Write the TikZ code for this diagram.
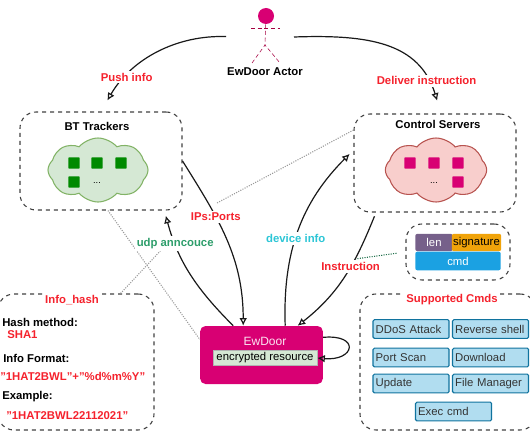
\documentclass[tikz,border=0pt]{standalone}
\usepackage{fontspec}
\setmainfont{Liberation Sans}
\usepackage{xcolor}
\usetikzlibrary{arrows.meta,positioning,shapes.symbols,shapes.geometric,calc}

\definecolor{ewmagenta}{HTML}{D80073}
\definecolor{ewdarkmag}{HTML}{A50040}
\definecolor{labelred}{HTML}{F5222D}
\definecolor{udpgreen}{HTML}{2E9E6B}
\definecolor{infocyan}{HTML}{2CC6D6}
\definecolor{btngreen}{HTML}{008A00}
\definecolor{cloudgreen}{HTML}{D5E8D4}
\definecolor{cloudgreenline}{HTML}{82B366}
\definecolor{cloudpink}{HTML}{F8CECC}
\definecolor{cloudpinkline}{HTML}{B85450}
\definecolor{lenpurple}{HTML}{76608A}
\definecolor{signorange}{HTML}{F0A30A}
\definecolor{cmdblue}{HTML}{1BA1E2}
\definecolor{btnblue}{HTML}{B1DDF0}
\definecolor{btnline}{HTML}{10739E}

\begin{document}
\begin{tikzpicture}[
  x=0.75pt, y=-0.75pt,
  panel/.style={rectangle, draw=black!75, dashed, thick, rounded corners=12pt},
  edge/.style={line width=0.9pt, -{Latex[open,length=2mm,width=2mm]}, draw=black!90},
  hint/.style={densely dotted, thick, draw=black!40},
  redlabel/.style={font=\fontsize{8.5}{10}\selectfont\bfseries, text=labelred, fill=white, inner sep=1.5pt},
  title/.style={font=\fontsize{8.5}{10}\selectfont\bfseries, text=black, inner sep=1pt},
  leftline/.style={anchor=west, font=\fontsize{8.5}{10}\selectfont\bfseries, inner sep=0pt},
  redline/.style={leftline, text=labelred},
  host/.style={rectangle, minimum size=8.5pt, inner sep=0pt, rounded corners=0.5pt},
  cmdbtn/.style={rectangle, draw=btnline, fill=btnblue, thick, rounded corners=1pt, text width=53pt, inner xsep=2pt, inner ysep=0pt, align=left, minimum height=14pt, font=\fontsize{8.5}{10}\selectfont, text=black!80},
  block/.style={rectangle, rounded corners=1.5pt, inner sep=0pt, font=\fontsize{8.5}{10}\selectfont}
]
\useasboundingbox (0,0) rectangle (530,442);

% Panels
\node[panel, minimum width=121.5pt, minimum height=73.5pt] (bt) at (101,161) {};
\node[panel, minimum width=121.5pt, minimum height=73.5pt] (cs) at (435,163) {};
\node[panel, minimum width=78pt, minimum height=42pt] (packet) at (458,252) {};
\node[panel, minimum width=132pt, minimum height=102pt] (cmds) at (448,362) {};
\node[panel, minimum width=117pt, minimum height=102pt] (info) at (76,362) {};

% Device
\node[rectangle, fill=ewmagenta, rounded corners=4pt, minimum width=92pt, minimum height=43.5pt] (ew) at (261.5,355) {};
\node[font=\small, text=white!90!ewmagenta, inner sep=0pt] (ewname) at (265,341) {EwDoor};
\node[rectangle, draw=black!30, fill=cloudgreen, inner sep=0pt, minimum width=78pt, minimum height=11pt, font=\fontsize{8.5}{10}\selectfont] (res) at (265,358) {encrypted resource};

% Actor
\node[circle, fill=ewmagenta, minimum size=12pt, inner sep=0pt] (head) at (266,16) {};
\node[title, inner sep=0pt] (actorname) at (265,72) {EwDoor Actor};
\coordinate (hip) at (265,45);
\coordinate (armleft) at (251,28);
\coordinate (armright) at (280,28);
\coordinate (footleft) at (252,63);
\coordinate (footright) at (280,63);
\coordinate (actorleft) at (238,37);
\coordinate (actorright) at (294,37);
\draw[ewdarkmag, densely dashed] (head) -- (hip);
\draw[ewdarkmag, densely dashed] (armleft) -- (armright);
\draw[ewdarkmag, densely dashed] (footleft) -- (hip) -- (footright);

% Clouds
\node[cloud, cloud puffs=8, cloud puff arc=100, aspect=1.6, draw=cloudgreenline, fill=cloudgreen, thick, minimum width=75pt, minimum height=48pt, inner sep=0pt] (btcloud) at (98,170) {};
\node[cloud, cloud puffs=8, cloud puff arc=100, aspect=1.6, draw=cloudpinkline, fill=cloudpink, thick, minimum width=76pt, minimum height=48pt, inner sep=0pt] (cscloud) at (436,170) {};

% Hosts
\node[host, fill=btngreen] (bt1) at (74,163) {};
\node[host, fill=btngreen] (bt2) at (97,163) {};
\node[host, fill=btngreen] (bt3) at (121,163) {};
\node[host, fill=btngreen] (bt4) at (74,182) {};
\node[font=\scriptsize, inner sep=0pt] (btdots) at (97,183) {...};
\node[host, fill=ewmagenta] (cs1) at (410,163) {};
\node[host, fill=ewmagenta] (cs2) at (434,163) {};
\node[host, fill=ewmagenta] (cs3) at (458,163) {};
\node[host, fill=ewmagenta] (cs4) at (458,182) {};
\node[font=\scriptsize, inner sep=0pt] (csdots) at (434,183) {...};

% Panel titles
\node[title] (bttitle) at (97,126) {BT Trackers};
\node[title] (cstitle) at (438,124) {Control Servers};
\node[redlabel] (cmdstitle) at (452,300) {Supported Cmds};
\node[redlabel] (infotitle) at (72,300) {Info\_hash};

% Packet
\node[block, fill=lenpurple, text=white, minimum width=28pt, minimum height=13pt] (len) at (434,242.5) {len};
\node[block, fill=signorange, text=black, minimum width=37pt, minimum height=13pt] (sign) at (476.5,242.5) {signature};
\node[block, fill=cmdblue, text=white, minimum width=64pt, minimum height=14pt] (cmd) at (458,261) {cmd};

% Commands
\node[cmdbtn] (ddos) at (411,329) {DDoS Attack};
\node[cmdbtn] (shell) at (490.5,329) {Reverse shell};
\node[cmdbtn] (scan) at (411,357.5) {Port Scan};
\node[cmdbtn] (down) at (490.5,357.5) {Download};
\node[cmdbtn] (update) at (411,383.5) {Update};
\node[cmdbtn] (files) at (490.5,383.5) {File Manager};
\node[cmdbtn] (exec) at (453.5,411.5) {Exec cmd};

% Hash details
\node[leftline] (method) at (2,322) {Hash method:};
\node[redline] (sha) at (7,335) {SHA1};
\node[leftline] (format) at (3,358) {Info Format:};
\node[redline] (fmtval) at (0,376) {"1HAT2BWL"+"\%d\%m\%Y"};
\node[leftline] (example) at (2,397) {Example:};
\node[redline] (exval) at (6,416) {"1HAT2BWL22112021"};

% Dotted hints
\draw[hint] (bt.-82) -- (ew.166);
\draw[hint] (cs.158) -- (217,203) coordinate (ipsend);
\draw[hint] (info.57) -- (163,248) coordinate (udpend);
\draw[hint, draw=udpgreen!70!black, shorten >=6pt] (355,259) coordinate (instrend) -- (packet.west);

% Edges
\draw[edge, shorten <=9pt, shorten >=9.5pt] (actorleft) to[out=178, in=60] node[redlabel, pos=0.75] {Push info} (bt.north);
\draw[edge, shorten >=10pt] (actorright) to[out=2, in=107, looseness=1.15] node[redlabel, pos=0.82] {Deliver instruction} (cs.83);
\draw[edge] (bt.east) to[out=-58, in=90] node[redlabel, pos=0.35] (ips) {IPs:Ports} (ew.122);
\draw[edge, shorten >=4pt] (ew.134) to[out=135, in=-75] node[redlabel, text=udpgreen, pos=0.76] (udp) {udp anncouce} (bt.-38);
\draw[edge, shorten >=4pt] (ew.51) to[out=92, in=-135] node[redlabel, text=infocyan, pos=0.45] (device) {device info} (cs.171);
\draw[edge, shorten <=3pt] (cs.220) to[out=-112, in=38] node[redlabel, pos=0.42] (instr) {Instruction} (ew.39);
\draw[edge] (ew.16) to[out=5, in=-5, looseness=4.5] (res.east);

\end{tikzpicture}
\end{document}
